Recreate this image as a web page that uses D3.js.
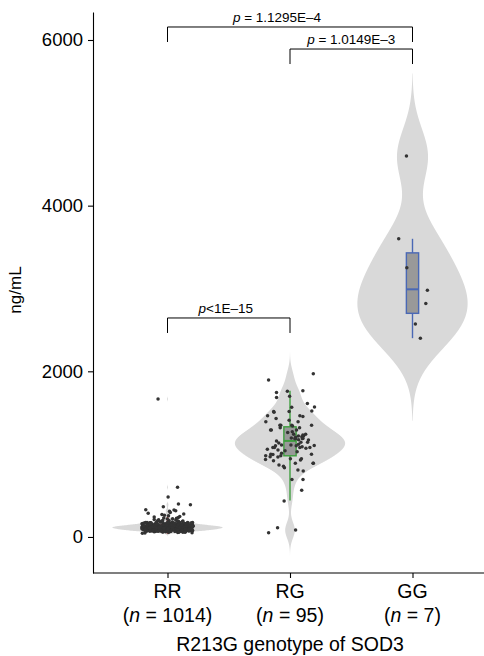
<!DOCTYPE html>
<html><head><meta charset="utf-8">
<script src="https://cdn.jsdelivr.net/npm/d3@7"></script>
<style>
body{margin:0;background:#fff;}
svg{display:block;font-family:"Liberation Sans",Arial,Helvetica,sans-serif;}
</style></head>
<body><svg id="chart" width="484" height="656"></svg>
<script>
// ---------- data ----------
const categories = ["RR", "RG", "GG"];
const groupN = ["1014", "95", "7"];
const yTickValues = [0, 2000, 4000, 6000];

const valuesRR = [45,48,52,55,57,60,62,63,65,66,67,68,70,71,72,73,74,75,76,77,78,79,80,80,81,82,83,84,85,85,86,87,88,88,89,90,90,91,92,92,93,94,94,95,96,96,97,98,98,99,100,100,101,102,102,103,104,104,105,105,106,107,107,108,108,109,110,110,111,111,112,112,113,113,114,114,115,115,116,116,117,117,118,118,119,119,120,120,121,121,122,122,123,123,124,124,125,125,126,126,127,128,128,129,130,130,131,132,132,133,134,134,135,136,137,137,138,139,140,140,141,142,143,144,145,146,147,148,149,150,151,152,154,155,156,158,159,160,162,163,165,166,168,170,172,174,176,178,180,183,186,190,194,198,
  58,64,69,74,79,83,87,91,95,99,103,106,109,112,115,118,121,124,127,131,135,139,144,149,155,161,168,175,
  62,66,70,73,76,78,81,83,85,87,89,91,93,95,97,99,101,103,105,107,109,111,113,115,117,119,121,123,125,127,129,131,133,135,137,139,141,143,145,147,150,153,156,159,162,165,168,171,174,177,
  64,68,72,75,77,80,82,84,86,88,90,92,94,96,98,100,102,104,106,108,110,112,114,116,118,120,122,124,126,128,130,132,134,136,138,140,142,144,146,148,151,154,157,160,163,166,169,172,175,178,
  60,65,69,71,74,79,84,89,93,97,100,104,108,111,114,117,120,123,126,129,133,137,141,146,152,158,164,170,176,182,
  56,61,67,72,78,85,92,99,105,110,116,121,127,134,142,150,157,167,
  188,192,196,200,204,208,212,216,220,225,230,236,242,248,255,262,270,278,286,296,310,317,326,330,366,390,398,483,600,1666];

const valuesRG = [1970,1895,1765,1760,1745,1700,1685,1610,1570,1565,
  1520,1515,1515,1505,1465,1465,1455,1430,1390,1410,
  1390,1350,1350,1350,1350,1340,1320,1320,1290,1290,
  1290,1270,1260,1220,1240,1210,1240,1220,1195,1190,
  1205,1190,1185,1175,1190,1145,1170,1145,1120,1100,
  1080,1050,1105,1100,1080,1060,1090,1110,1070,1135,
  1080,1110,1080,1030,1010,1000,980,1000,970,995,
  965,945,935,930,980,890,945,890,890,835,
  795,870,855,810,695,695,565,435,85,110,
  50,1040,1160,1230,920];

const valuesGG = [4600, 3600, 3250, 2980, 2820, 2570, 2400];

// box statistics
const boxLow  = [40, 440, 2400];
const boxQ1   = [90, 980, 2700];
const boxMed  = [118, 1160, 2990];
const boxQ3   = [150, 1330, 3430];
const boxHigh = [240, 1765, 3600];

// kernel bandwidths for violins (ng/mL)
const bandwidths = [14, 94, 332];

// significance comparisons
const sigFrom   = ["RR", "RG", "RR"];
const sigTo     = ["RG", "GG", "GG"];
const sigText   = ["<1E\u201315", " = 1.0149E\u20133", " = 1.1295E\u20134"];
const sigLevel  = [2644, 5891, 6157];

// ---------- layout / style ----------
const boxColors = ["#e0302a", "#3f9e3f", "#4a68b5"];
const violinFill = "#d9d9d9";
const pointColor = "#333333";
const allValues = [valuesRR, valuesRG, valuesGG];

const svg = d3.select("#chart");
const x = d3.scalePoint().domain(categories).range([94, 486]).padding(0.6);
const step = x.step();
const y = d3.scaleLinear().domain([-435, 6338]).range([573, 12]);

// seeded jitter generator (deterministic horizontal jitter only)
function mulberry32(a){return function(){a|=0;a=a+0x6D2B79F5|0;let t=Math.imul(a^a>>>15,1|a);t=t+Math.imul(t^t>>>7,61|t)^t;return((t^t>>>14)>>>0)/4294967296;}}
const rng = mulberry32(7);

// ---------- violins ----------
function kde(values, bw){
  const lo = d3.min(values) - 3*bw, hi = d3.max(values) + 3*bw;
  const n = 1024, pts = [];
  for (let i = 0; i < n; i++){
    const v = lo + (hi - lo) * i / (n - 1);
    let s = 0;
    for (const d of values){ const u = (v - d) / bw; s += Math.exp(-0.5*u*u); }
    pts.push([v, s / (values.length * bw * Math.sqrt(2*Math.PI))]);
  }
  return pts;
}
const gViolin = svg.append("g");
categories.forEach((c, i) => {
  const dens = kde(allValues[i], bandwidths[i]);
  const maxD = d3.max(dens, d => d[1]);
  const w = d3.scaleLinear().domain([0, maxD]).range([0, step*0.45]);
  const area = d3.area()
    .y(d => y(d[0]))
    .x0(d => x(c) - w(d[1]))
    .x1(d => x(c) + w(d[1]))
    .curve(d3.curveLinear);
  gViolin.append("path").datum(dens).attr("d", area).attr("fill", violinFill);
});

// ---------- boxes ----------
const gBox = svg.append("g");
const bw = step * 0.1;
categories.forEach((c, i) => {
  const cx = x(c), col = boxColors[i];
  gBox.append("line").attr("x1", cx).attr("x2", cx).attr("y1", y(boxHigh[i])).attr("y2", y(boxQ3[i]))
    .attr("stroke", col).attr("stroke-width", 1.4);
  gBox.append("line").attr("x1", cx).attr("x2", cx).attr("y1", y(boxQ1[i])).attr("y2", y(boxLow[i]))
    .attr("stroke", col).attr("stroke-width", 1.4);
  gBox.append("rect").attr("x", cx - bw/2).attr("width", bw)
    .attr("y", y(boxQ3[i])).attr("height", y(boxQ1[i]) - y(boxQ3[i]))
    .attr("fill", "#999999").attr("stroke", col).attr("stroke-width", 1.4);
  gBox.append("line").attr("x1", cx - bw/2).attr("x2", cx + bw/2).attr("y1", y(boxMed[i])).attr("y2", y(boxMed[i]))
    .attr("stroke", col).attr("stroke-width", 2);
});

// ---------- points ----------
const gPts = svg.append("g");
const jitterWidth = [0.21, 0.2, 0.14];
categories.forEach((c, i) => {
  gPts.selectAll(null).data(allValues[i]).enter().append("circle")
    .attr("cx", () => x(c) + (rng()*2 - 1) * jitterWidth[i] * step)
    .attr("cy", d => y(d))
    .attr("r", 1.75)
    .attr("fill", pointColor);
});

// ---------- axes ----------
const yAxis = d3.axisLeft(y).tickValues(yTickValues).tickFormat(d3.format("d"))
  .tickSize(5).tickSizeOuter(0).tickPadding(5);
const gy = svg.append("g").attr("transform", "translate(93,0)").call(yAxis);
gy.select(".domain").attr("stroke", "#000").attr("stroke-width", 1.1);
gy.selectAll(".tick line").attr("stroke", "#000").attr("stroke-width", 1.1);
gy.selectAll(".tick text").attr("font-size", 18.5).attr("fill", "#000").attr("font-family", "Liberation Sans, Arial, sans-serif");

const xAxis = d3.axisBottom(x).tickSize(5).tickSizeOuter(0).tickFormat("");
const gx = svg.append("g").attr("transform", "translate(0,573)").call(xAxis);
gx.select(".domain").attr("stroke", "#000").attr("stroke-width", 1.1).attr("d", "M93,0H486");
gx.selectAll(".tick line").attr("stroke", "#000").attr("stroke-width", 1.1);

categories.forEach((c, i) => {
  svg.append("text").attr("x", x(c)).attr("y", 598).attr("text-anchor", "middle")
    .attr("font-size", 19.5).text(c);
  const t = svg.append("text").attr("x", x(c)).attr("y", 622).attr("text-anchor", "middle").attr("font-size", 19.5);
  t.append("tspan").text("(");
  t.append("tspan").attr("font-style", "italic").text("n");
  t.append("tspan").text(" = " + groupN[i] + ")");
});

svg.append("text").attr("x", 290).attr("y", 651).attr("text-anchor", "middle").attr("font-size", 19.5)
  .text("R213G genotype of SOD3");
svg.append("text").attr("transform", "translate(21,290) rotate(-90)").attr("text-anchor", "middle")
  .attr("font-size", 17).text("ng/mL");

// ---------- significance brackets ----------
const gSig = svg.append("g");
const labelShift = [-3, 0, -13];
sigFrom.forEach((f, i) => {
  const x1 = x(f), x2 = x(sigTo[i]);
  const yl = y(sigLevel[i]);
  gSig.append("path").attr("d", `M${x1},${yl+15}V${yl}H${x2}V${yl+15}`)
    .attr("fill", "none").attr("stroke", "#000").attr("stroke-width", 1);
  const t = gSig.append("text").attr("x", (x1+x2)/2 + labelShift[i]).attr("y", yl - 5)
    .attr("text-anchor", "middle").attr("font-size", 13.5);
  t.append("tspan").attr("font-style", "italic").text("p");
  t.append("tspan").text(sigText[i]);
});
</script></body></html>
